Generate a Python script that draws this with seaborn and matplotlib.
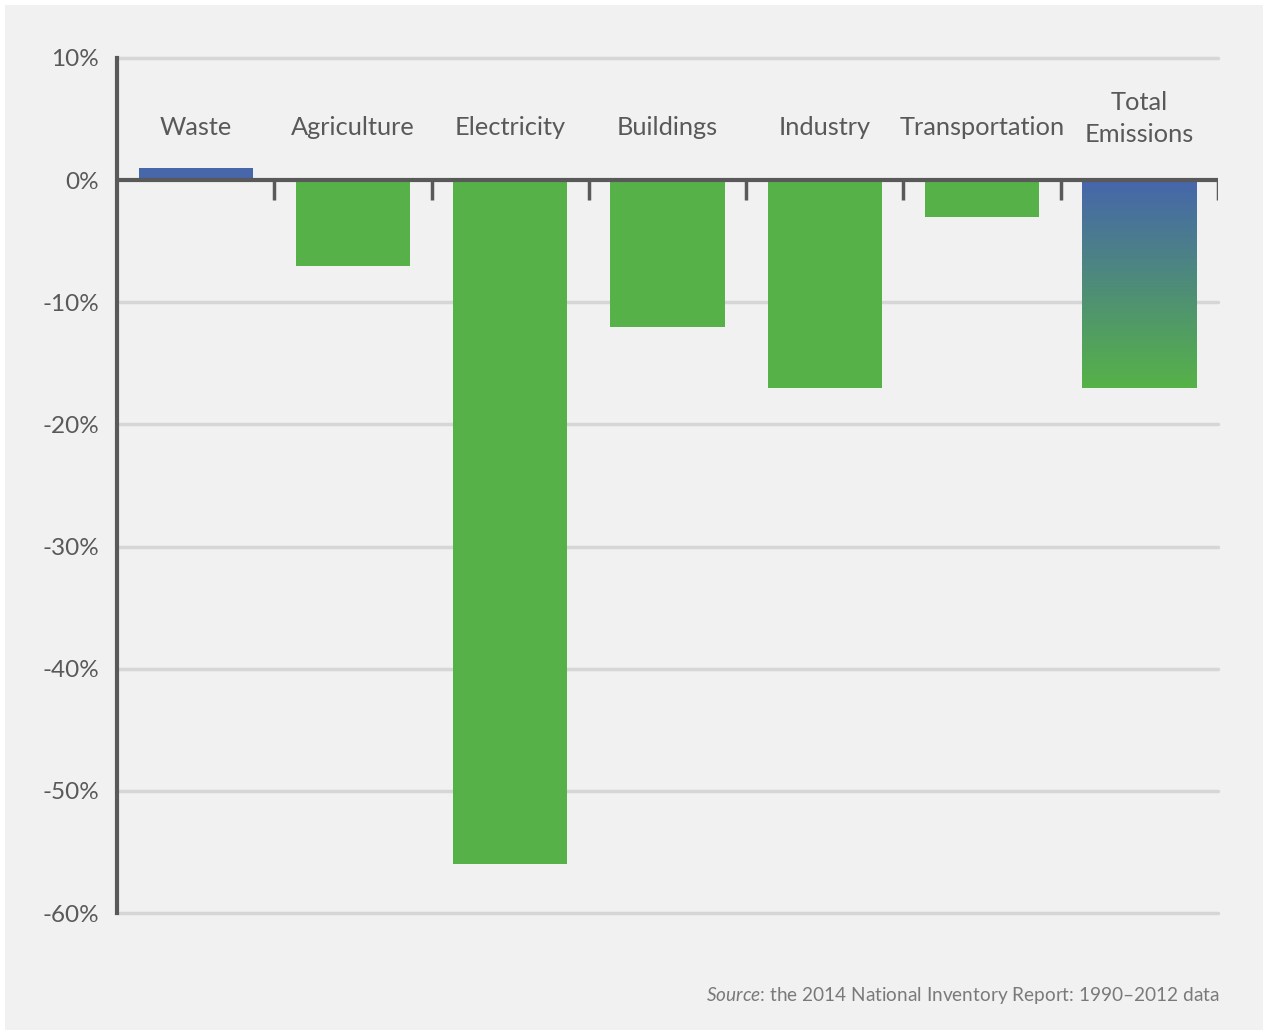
import matplotlib
matplotlib.use("Agg")
import matplotlib.pyplot as plt
from matplotlib.colors import LinearSegmentedColormap
from matplotlib.patches import Rectangle
import numpy as np
import pandas as pd
import seaborn as sns

sns.set_theme(style="white")
plt.rcParams["font.family"] = ["Lato", "DejaVu Sans"]
plt.rcParams["mathtext.fontset"] = "custom"
plt.rcParams["mathtext.rm"] = "Lato"
plt.rcParams["mathtext.it"] = "Lato:italic"

# data ---------------------------------------------------------------
sectors = ["Waste", "Agriculture", "Electricity", "Buildings", "Industry",
           "Transportation", "Total\nEmissions"]
change_pct = [1, -7, -56, -12, -17, -3, -17]
bar_colors = ["#4767aa", "#56b248", "#56b248", "#56b248", "#56b248",
              "#56b248", "#4767aa"]
y_ticks = [10, 0, -10, -20, -30, -40, -50, -60]

BG = "#f1f1f1"
DARK = "#595959"
GRID = "#d6d6d6"

df = pd.DataFrame({"sector": sectors, "change": change_pct})

fig = plt.figure(figsize=(12.68, 10.33), dpi=100, facecolor="white")
fig.patches.append(Rectangle((5 / 1268, 3 / 1033), 1258 / 1268, 1025 / 1033,
                             transform=fig.transFigure, facecolor=BG,
                             edgecolor="none", zorder=-10))
ax = fig.add_axes([117 / 1268, 1 - 913 / 1033, 1101 / 1268, 855 / 1033])
ax.set_facecolor(BG)

sns.barplot(data=df, x="sector", y="change", hue="sector", palette=bar_colors,
            legend=False, width=0.725, saturation=1, linewidth=0, ax=ax,
            zorder=3)

# gradient fill for total emissions bar
total = ax.patches[-1]
x0, y0 = total.get_x(), total.get_y()
w, h = total.get_width(), total.get_height()
grad_cmap = LinearSegmentedColormap.from_list("g", ["#4666ab", "#56b248"])
grad = np.linspace(0, 1, 256).reshape(-1, 1)
img = ax.imshow(grad, cmap=grad_cmap, aspect="auto", zorder=4,
                extent=[x0, x0 + w, min(y0, y0 + h), max(y0, y0 + h)],
                origin="upper")
img.set_clip_path(total)

ax.set_xlim(-0.5, 6.5)
ax.set_ylim(-60, 10)

for t in y_ticks:
    if t != 0:
        ax.axhline(t, color=GRID, lw=2.5, zorder=1, clip_on=False)
ax.axhline(0, color=DARK, lw=3, zorder=5)
ax.vlines(np.arange(0.5, 7, 1), -1.65, 0, color=DARK, lw=2.5, zorder=5)

for s in ["top", "right", "bottom"]:
    ax.spines[s].set_visible(False)
ax.spines["left"].set_color(DARK)
ax.spines["left"].set_linewidth(3)
ax.spines["left"].set_zorder(6)

ax.set_xticks([])
ax.set_yticks(y_ticks)
ax.set_yticklabels([f"{t}%" for t in y_ticks])
ax.tick_params(axis="y", length=0, pad=13, labelsize=17.5, labelcolor=DARK)
ax.set_xlabel("")
ax.set_ylabel("")

for i, name in enumerate(sectors):
    y = 5.05 if "\n" in name else 4.3
    ax.text(i, y, name, ha="center", va="center", fontsize=18.3, color=DARK,
            linespacing=1.5)

fig.text(1220 / 1268, 1 - 996 / 1033,
         r"$\mathit{Source}$: the 2014 National Inventory Report: 1990–2012 data",
         ha="right", va="center", fontsize=13.7, color="#7a7a7a")

fig.savefig("out.png", dpi=100, facecolor="white")
